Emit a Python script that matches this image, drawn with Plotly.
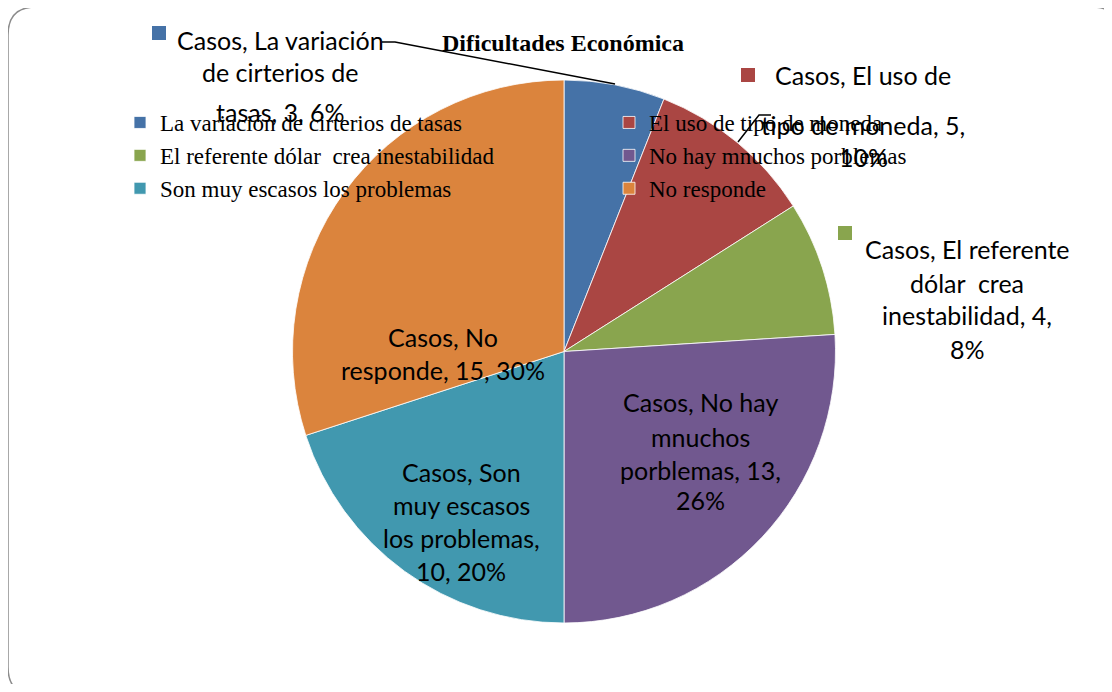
import plotly.graph_objects as go

# ---- data ----
categories = [
    "La variación de cirterios de tasas",
    "El uso de tipo de moneda",
    "El referente dólar\u00a0 crea inestabilidad",
    "No hay mnuchos porblemas",
    "Son muy escasos los problemas",
    "No responde",
]
casos = [3, 5, 4, 13, 10, 15]
colors = ["#4572A7", "#AA4643", "#89A54E", "#71588F", "#4198AF", "#DB843D"]
label_templates = [
    "Casos, La variación<br>de cirterios de<br>tasas, {v}, {p}%",
    "Casos, El uso de<br>tipo de moneda, {v},<br>{p}%",
    "Casos, El referente<br>dólar\u00a0 crea<br>inestabilidad, {v},<br>{p}%",
    "Casos, No hay<br>mnuchos<br>porblemas, {v},<br>{p}%",
    "Casos, Son<br>muy escasos<br>los problemas,<br>{v}, {p}%",
    "Casos, No<br>responde, {v}, {p}%",
]
title_text = "Dificultades Económica"

# ---- layout helpers ----
OFF = 8  # page body margin
W, H = 1112 - 2 * OFF, 692 - 2 * OFF


def px(x):
    return (x - OFF) / W


def py(y):
    return 1 - (y - OFF) / H


total = sum(casos)
pcts = [round(v * 100 / total) for v in casos]

fig = go.Figure(
    go.Pie(
        labels=categories,
        values=casos,
        sort=False,
        direction="clockwise",
        rotation=0,
        marker=dict(colors=colors, line=dict(color="white", width=0.8)),
        textinfo="none",
        hoverinfo="label+value+percent",
        domain=dict(x=[px(292), px(836)], y=[py(623), py(80)]),
    )
)

# data label placement: centre x and the y of each text line (pixels)
label_x = [280, 863, 967, 700, 461, 443]
label_line_y = [
    [40, 72, 112],
    [75, 125, 157],
    [249, 283, 315, 349],
    [402, 437, 470, 500],
    [472, 505, 538, 571],
    [337, 370],
]
annotations = []
for tpl, v, p, lx, ys in zip(label_templates, casos, pcts, label_x, label_line_y):
    for line, ly in zip(tpl.format(v=v, p=p).split("<br>"), ys):
        annotations.append(
            dict(
                text=line,
                x=px(lx), y=py(ly), xref="paper", yref="paper",
                xanchor="center", yanchor="middle", align="center",
                showarrow=False,
                font=dict(family="Lato, Carlito, Calibri, sans-serif", size=25, color="black"),
            )
        )

shapes = []
# legend keys beside outside labels
key_pos = {0: (159, 33), 1: (748, 75), 2: (845, 233)}
for i, (kx, ky) in key_pos.items():
    shapes.append(
        dict(type="rect", xref="paper", yref="paper",
             x0=px(kx - 7), x1=px(kx + 7), y0=py(ky + 7), y1=py(ky - 7),
             fillcolor=colors[i], line=dict(width=0))
    )
# leader lines
leaders = [
    [(382, 42), (395, 42), (615, 84)],
    [(738, 142), (759, 115), (771, 115)],
]
for pts in leaders:
    path = "M " + " L ".join(f"{px(a)},{py(b)}" for a, b in pts)
    shapes.append(dict(type="path", xref="paper", yref="paper", path=path,
                       line=dict(color="black", width=1.5)))

# rounded border (right and bottom edges run just past the visible area)
x0, y0, x1, y1, r = 8, 7, 1120, 695, 28
P = lambda a, b: f"{px(a)},{py(b)}"
border = (
    f"M {P(x0 + r, y0)} L {P(x1 - r, y0)} Q {P(x1, y0)} {P(x1, y0 + r)} "
    f"L {P(x1, y1 - r)} Q {P(x1, y1)} {P(x1 - r, y1)} "
    f"L {P(x0 + r, y1)} Q {P(x0, y1)} {P(x0, y1 - r)} "
    f"L {P(x0, y0 + r)} Q {P(x0, y0)} {P(x0 + r, y0)} Z"
)
shapes.append(dict(type="path", xref="paper", yref="paper", path=border,
                   line=dict(color="#8c8c8c", width=1.5), layer="below"))

fig.update_layout(
    width=W,
    height=H,
    margin=dict(l=0, r=0, t=0, b=0, autoexpand=False),
    paper_bgcolor="white",
    plot_bgcolor="white",
    title=dict(
        text=f"<b>{title_text}</b>",
        x=px(563), y=py(43), xref="paper", yref="paper",
        xanchor="center", yanchor="middle",
        font=dict(family="Liberation Serif, Times New Roman, serif", size=24, color="black"),
    ),
    showlegend=True,
    legend=dict(
        orientation="h",
        x=px(120), y=py(101), xanchor="left", yanchor="top",
        entrywidth=444, entrywidthmode="pixels",
        bgcolor="rgba(0,0,0,0)",
        traceorder="normal",
        font=dict(family="Liberation Serif, Times New Roman, serif", size=23, color="black"),
    ),
    annotations=annotations,
    shapes=shapes,
)

fig.write_html("out.html")
